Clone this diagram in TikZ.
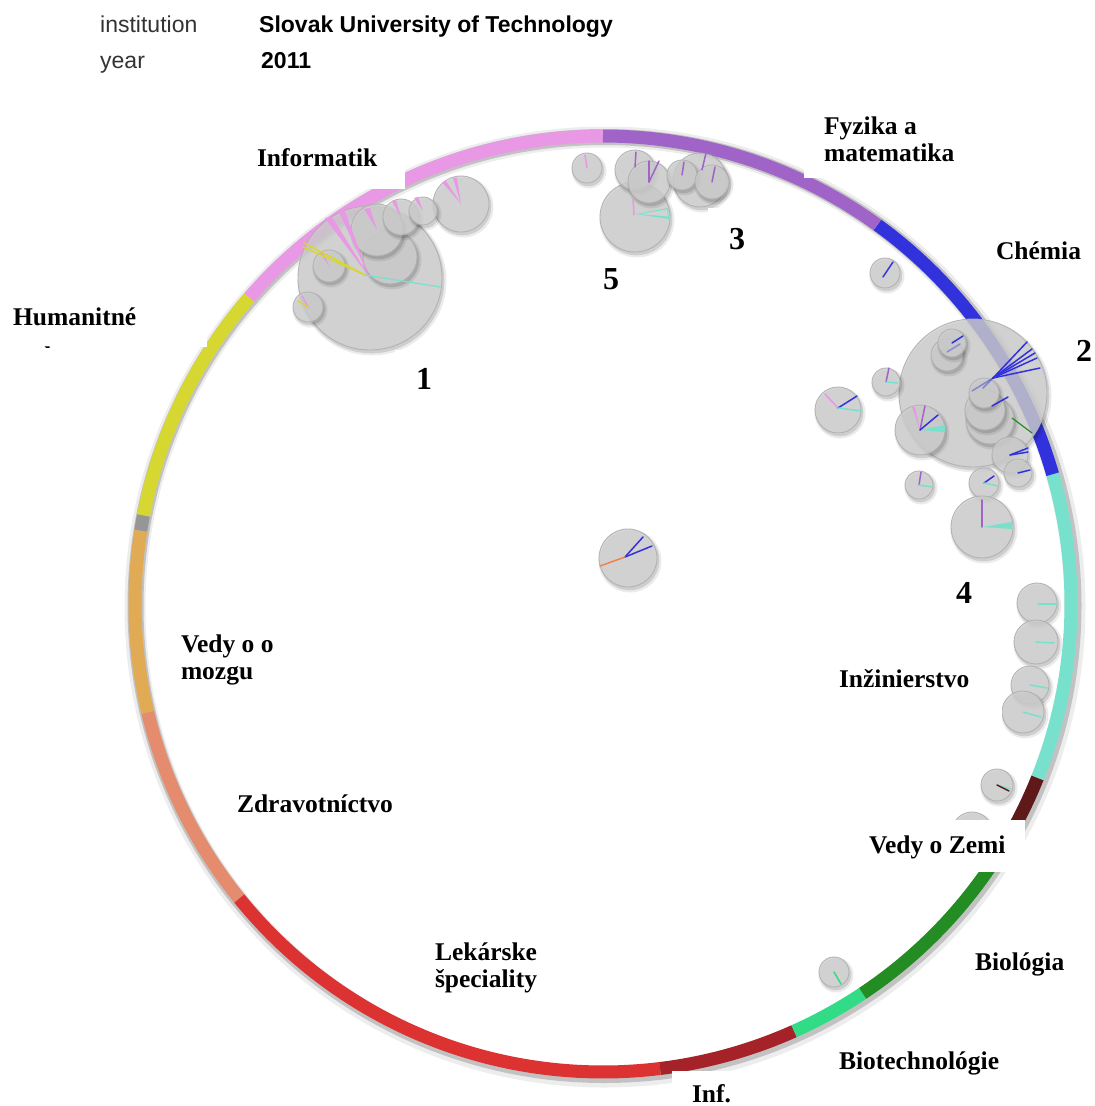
\documentclass[tikz,border=0pt]{standalone}
\usepackage{fontspec}
\setmainfont{Liberation Serif}
\setsansfont{Liberation Sans}
\definecolor{cInf}{RGB}{232,152,228}
\definecolor{cFyz}{RGB}{160,100,200}
\definecolor{cChe}{RGB}{50,50,220}
\definecolor{cInz}{RGB}{120,225,205}
\definecolor{cZem}{RGB}{95,25,25}
\definecolor{cBio}{RGB}{35,140,35}
\definecolor{cBtc}{RGB}{50,220,135}
\definecolor{cInfm}{RGB}{165,35,40}
\definecolor{cLek}{RGB}{220,50,50}
\definecolor{cZdr}{RGB}{230,140,110}
\definecolor{cMoz}{RGB}{225,170,85}
\definecolor{cGry}{RGB}{150,150,150}
\definecolor{cHum}{RGB}{215,215,50}
\definecolor{cOra}{RGB}{240,130,80}
\definecolor{bubfill}{RGB}{210,210,210}
\definecolor{bubedge}{RGB}{175,175,175}
\begin{document}
\begin{tikzpicture}[x=1pt,y=-1pt,
  lab/.style={font=\bfseries\fontsize{25.5}{27.5}\selectfont, anchor=base west, inner sep=0pt, outer sep=0pt, align=left},
  num/.style={font=\bfseries\fontsize{32}{36}\selectfont, anchor=base, inner sep=0pt},
  hkey/.style={font=\sffamily\fontsize{23}{26}\selectfont, anchor=base west, inner sep=0pt, text=black!80},
  hval/.style={font=\sffamily\bfseries\fontsize{23}{26}\selectfont, anchor=base west, inner sep=0pt},
  bub/.style={circle, inner sep=0pt, outer sep=0pt, fill=bubfill, fill opacity=0.8, draw=bubedge, draw opacity=0.9, line width=0.9pt},
  sp/.style={line width=1.5pt, line cap=round},
  wb/.style={fill=white, draw=none}]

\useasboundingbox (0,0) rectangle (1095,1106);
\fill[white] (0,0) rectangle (1095,1106);

% ring shadow
\draw[black, opacity=0.07, line width=21pt] (605,607) circle[radius=470];
\draw[black, opacity=0.18, line width=16pt] (604.5,606) circle[radius=469];

% ring segments
\foreach \a/\b/\c in {90/139.1/cInf, 139.1/169.1/cHum, 169.1/171/cGry, 171/193.4/cMoz,
  193.4/219/cZdr, 219/277/cLek, 277/294.1/cInfm, 294.1/303.7/cBtc, 303.7/328/cBio,
  328/338.2/cZem, 338.2/376.1/cInz, 376.1/414.1/cChe, 414.1/450/cFyz}
  \draw[\c, line width=13pt] plot[domain=\a:\b, samples=70] ({603+468*cos(\x)},{604-468*sin(\x)});

% bubbles
\foreach \n/\px/\py/\r in {
  i1/370/278/72, i6/461/204/28, i2/390/257/27, i3/377/230/26, i4/401/217/18, i5/423/211/14, i7/329/266/16, i8/308/307/15,
  t2/635/217/35, t1/587/168/15, t6/700/180/27, t3/635/170/20, t4/649/182/21, t5/682/175/15, t7/712/182/17,
  c1/973/393/74, c0/885/273/15, c2/947/355/16, c3/952/343/14, c4/886/382/14, c5/838/410/23, c6/920/430/25,
  c8/990/420/24, c9/985/410/20, c7/984/393/15, c10/1010/455/18, c11/1018/473/14, c12/919/485/14,
  c13/984/483/15, c14/982/527/31,
  r1/1037/603/20, r2/1036/642/22, r3/1030/685/19, r4/1023/712/21, r5/997/785/16, r6/972/832/20,
  m1/628/558/29, b1/834/972/15}{
  \fill[black, opacity=0.08] (\px+2,\py+3) circle[radius=\r+2.5];
  \fill[black, opacity=0.12] (\px+1.5,\py+2.5) circle[radius=\r+0.8];
  \node[bub, minimum size={2*\r*1pt}] (\n) at (\px,\py) {};
}

% spokes: Informatik cluster
\fill[cInf] (i1.center) -- ++(-45,-60) -- ++(7,-1) -- cycle;
\fill[cInf] (i1.center) -- ++(-32,-68) -- ++(6,-1) -- cycle;
\fill[cInf] (i3.center) -- ++(-13,-21) -- ++(6,-1) -- cycle;
\fill[cInf] (i4.center) -- ++(-9,-16) -- ++(4,-1) -- cycle;
\fill[cInf] (i5.center) -- ++(-9,-13) -- ++(4,-1) -- cycle;
\fill[cInf] (i6.center) -- ++(-19,-22) -- ++(4,-1) -- cycle;
\fill[cInf] (i6.center) -- ++(-8,-26) -- ++(4,0) -- cycle;
\fill[cInf] (i7.center) -- ++(-9,-13) -- ++(3,-1) -- cycle;
\draw[sp, cInf] (i8.center) -- ++(-6,-11);
\draw[sp, cHum] (i8.center) -- ++(-10,-6);
\draw[sp, cHum] (i1.center) ++(-5,-3) -- ++(-62,-28);
\draw[sp, cHum] (i1.center) ++(-5,-3) -- ++(-61,-32);
\draw[sp, cInz, line width=1.2pt] (i1.center) ++(-5,-3) -- ++(75,12);

% top cluster
\draw[sp, cInf] (t1.center) -- ++(-2,-13);
\draw[sp, cInf] (t2.center) ++(-1,-2) -- ++(-1,-17);
\fill[cInz] (t2.center) ++(1,-3) -- ++(32,-6) -- ++(1,11) -- cycle;
\fill[bubfill] (t2.center) ++(5,-3) -- ++(27,-4.5) -- ++(1,7) -- cycle;
\draw[sp, cFyz] (t3.center) ++(0,-3) -- ++(1,-15);
\draw[sp, cFyz] (t4.center) -- ++(0,-21);
\draw[sp, cFyz] (t4.center) -- ++(10,-21);
\draw[sp, cFyz] (t5.center) -- ++(2,-13);
\draw[sp, cFyz] (t6.center) ++(2,-10) -- ++(4,-17);
\draw[sp, cFyz] (t7.center) -- ++(3,-15);

% chemistry cluster
\draw[sp, cChe] (c0.center) ++(-2,4) -- ++(10,-15);
\draw[sp, cChe, opacity=0.45] (c1.center) ++(20,-15) -- ++(-21,13);
\draw[sp, cChe, opacity=0.45] (c1.center) ++(20,-15) -- ++(-10,10);
\draw[sp, cChe] (c1.center) ++(20,-15) -- ++(34,-36);
\draw[sp, cChe] (c1.center) ++(20,-15) -- ++(39,-29);
\draw[sp, cChe] (c1.center) ++(20,-15) -- ++(42,-25);
\draw[sp, cChe] (c1.center) ++(20,-15) -- ++(44,-20);
\draw[sp, cChe] (c1.center) ++(20,-15) -- ++(47,-10);
\draw[sp, cBio, line width=1.2pt] (c1.center) ++(39,25) -- ++(20,15);
\draw[sp, cChe, opacity=0.4] (c2.center) ++(0,-3) -- ++(13,-8);
\draw[sp, cChe] (c3.center) -- ++(11,-7);
\draw[sp, cFyz] (c4.center) -- ++(3,-14);
\draw[sp, cInz] (c4.center) -- ++(12,1);
\draw[sp, cInf] (c5.center) ++(0,-2) -- ++(-13,-14);
\draw[sp, cChe] (c5.center) ++(0,-2) -- ++(19,-12);
\draw[sp, cInz] (c5.center) ++(0,-2) -- ++(24,3);
\fill[cInz] (c6.center) -- ++(25,-5) -- ++(0,7) -- cycle;
\fill[cInf] (c6.center) -- ++(-8,-23) -- ++(3,0) -- cycle;
\draw[sp, cFyz] (c6.center) -- ++(5,-24);
\draw[sp, cChe] (c6.center) -- ++(18,-15);
\draw[sp, cChe] (c9.center) ++(7,-4) -- ++(16,-9);
\draw[sp, cChe] (c10.center) -- ++(18,-7);
\draw[sp, cChe] (c10.center) -- ++(18,-3);
\draw[sp, cChe] (c11.center) -- ++(12,-3);
\draw[sp, cFyz] (c12.center) -- ++(2,-13);
\draw[sp, cInz] (c12.center) -- ++(13,2);
\draw[sp, cChe] (c13.center) -- ++(10,-7);
\draw[sp, cInz] (c13.center) -- ++(14,3);
\draw[sp, cFyz] (c14.center) -- ++(0,-27);
\fill[cInz] (c14.center) -- ++(30,-5) -- ++(0,7) -- cycle;

% right cluster
\draw[sp, cInz] (r1.center) ++(1,1) -- ++(19,0);
\draw[sp, cInz] (r2.center) -- ++(18,1);
\draw[sp, cInz] (r3.center) -- ++(17,3);
\draw[sp, cInz] (r4.center) -- ++(18,5);
\draw[sp, cInz] (r5.center) -- ++(13,4);
\draw[sp, cZem] (r5.center) -- ++(12,6);

% centre and bottom
\draw[sp, cChe] (m1.center) ++(-3,-1) -- ++(18,-20);
\draw[sp, cChe] (m1.center) ++(-3,-1) -- ++(27,-11);
\draw[sp, cOra] (m1.center) ++(-3,-1) -- ++(-25,9);
\draw[sp, cBtc] (b1.center) -- ++(7,12);

% label boxes (white) covering parts of ring/bubbles
\fill[wb] (250,138) rectangle (405,189);
\fill[wb] (804,105) rectangle (965,178);
\fill[wb] (0,295) rectangle (207,347);
\fill[wb] (395,350) rectangle (460,400);
\fill[wb] (708,208) rectangle (765,260);
\fill[wb] (835,662) rectangle (1002,740);
\fill[wb] (860,820) rectangle (1025,872);
\fill[wb] (672,1071) rectangle (770,1106);

% header
\node[hkey] (k1) at (100,32) {institution};
\node[hval] (v1) at (259,32) {Slovak University of Technology};
\node[hkey] (k2) at (100,68) {year};
\node[hval] (v2) at (261,68) {2011};

% category labels (anchor at baseline of last line)
\node[lab] (lInf) at (257,166) {Informatik};
\node[lab] (lFyz) at (824,161.5) {Fyzika a\\matematika};
\node[lab] (lChe) at (996,259) {Chémia};
\begin{scope}
  \clip (0,295) rectangle (207,347);
  \node[lab] (lHum) at (13,364) {Humanitné\\[11.5pt]vedy};
\end{scope}
\node[lab] (lMoz) at (181,679.5) {Vedy o o\\mozgu};
\node[lab] (lZdr) at (237,812) {Zdravotníctvo};
\node[lab] (lLek) at (435,987.5) {Lekárske\\špeciality};
\node[lab] (lInfm) at (692,1102) {Inf.};
\node[lab] (lBtc) at (839,1069) {Biotechnológie};
\node[lab] (lBio) at (975,970) {Biológia};
\node[lab] (lZem) at (869,853) {Vedy o Zemi};
\node[lab] (lInz) at (839,687) {Inžinierstvo};

% cluster numbers
\node[num] (n1) at (424,389) {1};
\node[num] (n2) at (1084,361) {2};
\node[num] (n3) at (737,249) {3};
\node[num] (n4) at (964,603) {4};
\node[num] (n5) at (611,289) {5};
\end{tikzpicture}
\end{document}
